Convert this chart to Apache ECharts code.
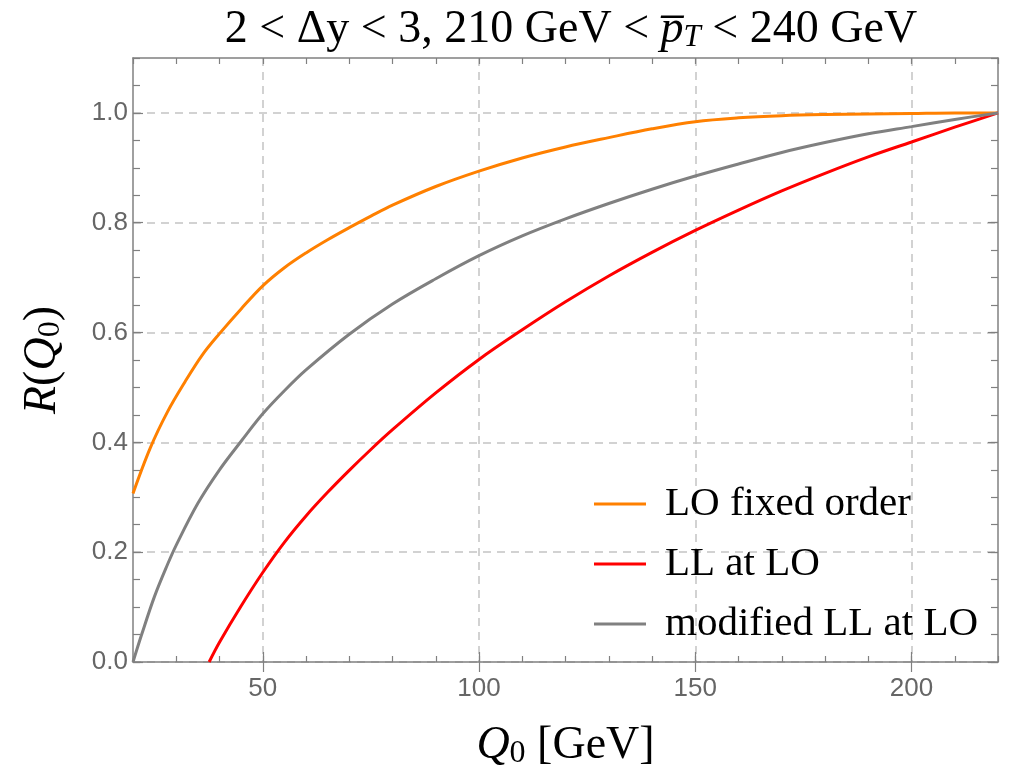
<!DOCTYPE html>
<html>
<head>
<meta charset="utf-8">
<script src="https://cdn.jsdelivr.net/npm/echarts@6/dist/echarts.min.js"></script>
<style>
html, body { margin: 0; padding: 0; background: #fff; }
#chart { width: 1015px; height: 770px; }
</style>
</head>
<body>
<div id="chart"></div>
<script>
// LO fixed order
var loQ = [20, 24, 28, 32, 36, 40, 45, 50, 55, 60, 65, 70, 75, 80, 90, 100, 110, 120, 130, 140, 150, 160, 170, 180, 190, 200, 210, 220];
var loR = [0.307, 0.39, 0.456, 0.51, 0.559, 0.598, 0.643, 0.685, 0.718, 0.745, 0.769, 0.791, 0.812, 0.832, 0.866, 0.894, 0.918, 0.938, 0.955, 0.971, 0.984, 0.991, 0.995, 0.997, 0.998, 0.999, 1.0, 1.0];
// LL at LO
var llQ = [37.6, 40, 45, 50, 55, 60, 65, 70, 75, 80, 90, 100, 110, 120, 130, 140, 150, 160, 170, 180, 190, 200, 210, 220];
var llR = [0, 0.036, 0.102, 0.163, 0.218, 0.266, 0.309, 0.349, 0.387, 0.423, 0.49, 0.551, 0.605, 0.656, 0.703, 0.746, 0.786, 0.823, 0.858, 0.89, 0.92, 0.947, 0.974, 1.0];
// modified LL at LO
var modQ = [20, 22, 25, 28, 30, 35, 40, 45, 50, 55, 60, 70, 80, 90, 100, 110, 120, 130, 140, 150, 160, 170, 180, 190, 200, 210, 220];
var modR = [0, 0.05, 0.12, 0.178, 0.213, 0.289, 0.35, 0.402, 0.452, 0.494, 0.532, 0.597, 0.652, 0.698, 0.74, 0.776, 0.807, 0.835, 0.861, 0.885, 0.907, 0.928, 0.946, 0.962, 0.975, 0.988, 1.0];

var xMajor = [50, 100, 150, 200];
var yMajor = [0, 0.2, 0.4, 0.6, 0.8, 1.0];

function pairs(q, r) {
    return q.map(function (v, i) { return [v, r[i]]; });
}

var frameColor = '#808080';
var gridColor = '#c4c4c4';
var labelColor = '#666';
var serif = 'Liberation Serif';
var sans = 'Liberation Sans';

var chart = echarts.init(document.getElementById('chart'));

// axes with only minor ticks (every 10 / every 0.05), drawn on all four sides
function minorX(pos) {
    return {
        type: 'value', position: pos, min: 20, max: 220, interval: 10,
        axisLine: { show: true, onZero: false, lineStyle: { color: frameColor, width: 1.5 } },
        axisTick: { show: true, inside: true, length: 6, lineStyle: { color: frameColor, width: 1.2 } },
        axisLabel: { show: false },
        splitLine: { show: false }
    };
}
function majorX(pos, withLabels) {
    return {
        type: 'value', position: pos, min: 20, max: 220,
        axisLine: { show: false },
        axisTick: { show: true, inside: true, length: 10, customValues: xMajor, lineStyle: { color: frameColor, width: 1.2 } },
        axisLabel: { show: withLabels, customValues: xMajor, color: labelColor, fontFamily: sans, fontSize: 26, margin: 14 },
        splitLine: { show: withLabels, lineStyle: { color: gridColor, width: 1.5, type: [8, 6] } }
    };
}
function minorY(pos) {
    return {
        type: 'value', position: pos, min: 0, max: 1.1, interval: 0.05,
        axisLine: { show: true, onZero: false, lineStyle: { color: frameColor, width: 1.5 } },
        axisTick: { show: true, inside: true, length: 7, lineStyle: { color: frameColor, width: 1.2 } },
        axisLabel: { show: false },
        splitLine: { show: false }
    };
}
function majorY(pos, withLabels) {
    return {
        type: 'value', position: pos, min: 0, max: 1.1,
        axisLine: { show: false },
        axisTick: { show: true, inside: true, length: 10, customValues: yMajor, lineStyle: { color: frameColor, width: 1.2 } },
        axisLabel: {
            show: withLabels, customValues: yMajor, color: labelColor, fontFamily: sans, fontSize: 26, margin: 5,
            formatter: function (v) { return v.toFixed(1); }
        },
        splitLine: { show: withLabels, lineStyle: { color: gridColor, width: 1.5, type: [8, 6] } }
    };
}

var xLab = majorX('bottom', true);
xLab.name = '{q|Q}{s|0} [GeV]';
xLab.nameLocation = 'middle';
xLab.nameGap = 60;
xLab.nameTextStyle = {
    fontFamily: serif, fontSize: 46, color: '#000',
    rich: {
        q: { fontFamily: serif, fontSize: 46, fontStyle: 'italic', color: '#000' },
        s: { fontFamily: serif, fontSize: 32, color: '#000', padding: [16, 0, 0, 0] }
    }
};

var yLab = majorY('left', true);
yLab.name = '{q|R}({q|Q}{s|0})';
yLab.nameLocation = 'middle';
yLab.nameGap = 66;
yLab.nameRotate = 90;
yLab.nameTextStyle = {
    fontFamily: serif, fontSize: 46, color: '#000',
    rich: {
        q: { fontFamily: serif, fontSize: 46, fontStyle: 'italic', color: '#000' },
        s: { fontFamily: serif, fontSize: 32, color: '#000', padding: [16, 0, 0, 0] }
    }
};

function curve(name, q, r, color) {
    return {
        name: name,
        type: 'line',
        xAxisIndex: 0, yAxisIndex: 0,
        showSymbol: false,
        smooth: 0.35,
        lineStyle: { width: 3, color: color },
        itemStyle: { color: color },
        data: pairs(q, r)
    };
}

var option = {
    animation: false,
    backgroundColor: '#fff',
    title: {
        text: '2 < Δy < 3, 210 GeV < {i|p\u0305}{s|T} < 240 GeV',
        left: 566,
        top: 2,
        textAlign: 'center',
        textStyle: {
            fontFamily: serif, fontSize: 46, fontWeight: 'normal', color: '#000',
            rich: {
                i: { fontFamily: serif, fontSize: 46, fontStyle: 'italic', color: '#000' },
                s: { fontFamily: serif, fontSize: 31, fontStyle: 'italic', color: '#000', padding: [15, 0, 0, 0] }
            }
        }
    },
    grid: { left: 133, right: 17, top: 58, bottom: 108, containLabel: false, outerBoundsMode: 'none' },
    legend: {
        orient: 'vertical',
        left: 589,
        top: 476,
        icon: 'rect',
        itemWidth: 52,
        itemHeight: 3,
        itemGap: 14,
        textStyle: { fontFamily: serif, fontSize: 41, color: '#000', lineHeight: 46, padding: [0, 0, 0, 14] },
        data: ['LO fixed order', 'LL at LO', 'modified LL at LO']
    },
    xAxis: [minorX('bottom'), xLab, minorX('top'), majorX('top', false)],
    yAxis: [minorY('left'), yLab, minorY('right'), majorY('right', false)],
    color: ['#ff8000', '#ff0000', '#808080'],
    series: [
        curve('LO fixed order', loQ, loR, '#ff8000'),
        curve('LL at LO', llQ, llR, '#ff0000'),
        curve('modified LL at LO', modQ, modR, '#808080')
    ]
};
chart.setOption(option);
</script>
</body>
</html>
